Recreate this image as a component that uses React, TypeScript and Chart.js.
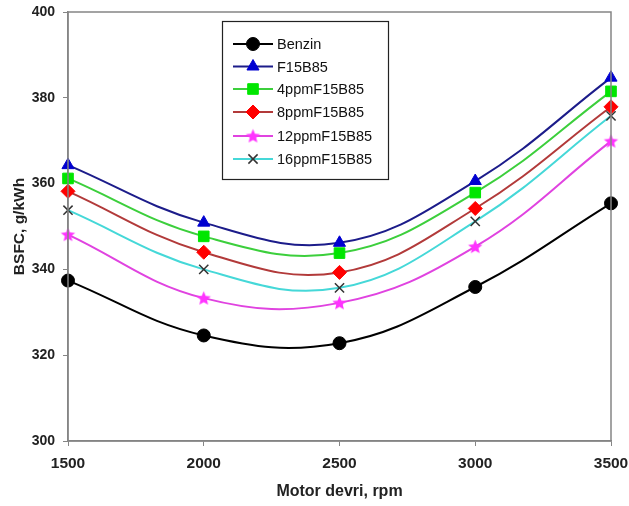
import React, { useEffect, useRef } from "react";
import { Chart, registerables } from "chart.js";
import { drawPoint } from "chart.js/helpers";

Chart.register(...registerables);

const rpm = [1500, 2000, 2500, 3000, 3500];
const benzin = [337.4, 324.6, 322.8, 335.9, 355.4];
const f15b85 = [364.3, 350.9, 346.2, 360.6, 384.7];
const ppm4 = [361.2, 347.7, 343.8, 357.9, 381.5];
const ppm8 = [358.2, 344.0, 339.3, 354.2, 377.9];
const ppm12 = [348.1, 333.3, 332.2, 345.3, 369.9];
const ppm16 = [353.8, 340.0, 335.7, 351.2, 375.8];
const yTicks = [300, 320, 340, 360, 380, 400];
const xTicks = [1500, 2000, 2500, 3000, 3500];

const FONT = "Arial, 'Liberation Sans', sans-serif";

const seriesDefs: any[] = [
  { label: "Benzin", values: benzin, line: "#000000", fill: "#000000", border: "#000000", style: "circle", r: 6.5 },
  { label: "F15B85", values: f15b85, line: "#1c1c8a", fill: "#0000d0", border: "#0000d0", style: "triangle", r: 7 },
  { label: "4ppmF15B85", values: ppm4, line: "#3ccf3c", fill: "#00e600", border: "#00e600", style: "rect", r: 7.5 },
  { label: "8ppmF15B85", values: ppm8, line: "#b23a3a", fill: "#ff0000", border: "#ff0000", style: "rectRot", r: 7 },
  { label: "12ppmF15B85", values: ppm12, line: "#e043e0", fill: "#ff33ff", border: "#ff33ff", style: "filledStar", r: 7 },
  { label: "16ppmF15B85", values: ppm16, line: "#45d8d8", fill: "#333333", border: "#333333", style: "crossRot", r: 6.5 },
];

function makeStar(r: number, color: string): HTMLCanvasElement {
  const c = document.createElement("canvas");
  const s = Math.ceil(r * 2 + 2);
  c.width = s;
  c.height = s;
  const ctx = c.getContext("2d") as CanvasRenderingContext2D;
  const cx = s / 2, cy = s / 2 + 0.5;
  ctx.beginPath();
  for (let i = 0; i < 10; i++) {
    const rad = i % 2 === 0 ? r : r * 0.45;
    const a = -Math.PI / 2 + (i * Math.PI) / 5;
    const px = cx + rad * Math.cos(a);
    const py = cy + rad * Math.sin(a);
    if (i === 0) ctx.moveTo(px, py);
    else ctx.lineTo(px, py);
  }
  ctx.closePath();
  ctx.fillStyle = color;
  ctx.fill();
  return c;
}

export default function App() {
  const ref = useRef<HTMLCanvasElement | null>(null);
  useEffect(() => {
    document.body.style.margin = "0";
    const star = makeStar(7.5, "#ff33ff");
    const styleOf = (s: any) => (s.style === "filledStar" ? star : s.style);

    const framePlugin = {
      id: "frameLegend",
      afterDraw(chart: any) {
        const ctx = chart.ctx;
        const a = chart.chartArea;
        ctx.save();
        ctx.strokeStyle = "#858585";
        ctx.lineWidth = 1.5;
        ctx.strokeRect(a.left, a.top, a.right - a.left, a.bottom - a.top);

        ctx.strokeStyle = "#222222";
        ctx.lineWidth = 1.2;
        ctx.strokeRect(222.5, 21.5, 166, 158);
        const rows = [44, 66.5, 89, 112, 136, 159];
        ctx.font = "14.5px " + FONT;
        ctx.textBaseline = "middle";
        ctx.textAlign = "left";
        seriesDefs.forEach((s, i) => {
          const y = rows[i];
          ctx.strokeStyle = s.line;
          ctx.lineWidth = 2;
          ctx.beginPath();
          ctx.moveTo(233, y);
          ctx.lineTo(273, y);
          ctx.stroke();
          ctx.fillStyle = s.fill;
          ctx.strokeStyle = s.border;
          ctx.lineWidth = s.style === "crossRot" ? 1.5 : 1;
          drawPoint(ctx, { pointStyle: styleOf(s), radius: s.r, rotation: 0, borderWidth: ctx.lineWidth }, 253, y);
          ctx.fillStyle = "#111111";
          ctx.fillText(s.label, 277, y + 1);
        });
        ctx.restore();
      },
    };

    const chart = new Chart(ref.current as HTMLCanvasElement, {
      type: "line",
      data: {
        datasets: seriesDefs.map((s) => ({
          label: s.label,
          data: rpm.map((x, i) => ({ x, y: s.values[i] })),
          borderColor: s.line,
          borderWidth: 2,
          backgroundColor: s.fill,
          pointStyle: styleOf(s),
          pointRadius: s.r,
          pointBackgroundColor: s.fill,
          pointBorderColor: s.border,
          pointBorderWidth: s.style === "crossRot" ? 1.5 : 1,
          tension: 0.4,
          fill: false,
          clip: false as any,
        })),
      },
      options: {
        animation: false,
        responsive: false,
        layout: { padding: { left: 10, right: 18, top: 12, bottom: 0 } },
        plugins: { legend: { display: false }, tooltip: { enabled: false } },
        scales: {
          x: {
            type: "linear",
            min: 1500,
            max: 3500,
            afterFit(scale: any) {
              scale.height = 65;
              scale.paddingLeft = 0;
              scale.paddingRight = 0;
            },
            afterBuildTicks(scale: any) { scale.ticks = xTicks.map((v) => ({ value: v })); },
            grid: { display: true, drawOnChartArea: false, drawTicks: true, tickLength: 5, color: "#858585" },
            border: { color: "#858585", width: 1.5 },
            ticks: {
              color: "#222222",
              font: { family: FONT, size: 15.5, weight: "bold" },
              padding: 8,
              callback: (v: any) => String(v),
            },
            title: { display: true, text: "Motor devri, rpm", color: "#222222", font: { family: FONT, size: 16, weight: "bold" }, padding: { top: 0, bottom: 5 } },
          },
          y: {
            type: "linear",
            min: 300,
            max: 400,
            afterFit(scale: any) {
              scale.width = 58;
              scale.paddingTop = 0;
              scale.paddingBottom = 0;
            },
            afterBuildTicks(scale: any) { scale.ticks = yTicks.map((v) => ({ value: v })); },
            grid: { display: true, drawOnChartArea: false, drawTicks: true, tickLength: 5, color: "#858585" },
            border: { color: "#858585", width: 1.5 },
            ticks: {
              color: "#222222",
              font: { family: FONT, size: 14, weight: "bold" },
              padding: 8,
              callback: (v: any) => String(v),
            },
            title: { display: true, text: "BSFC, g/kWh", color: "#222222", font: { family: FONT, size: 15.5, weight: "bold" }, padding: { top: 0, bottom: 2 } },
          },
        },
      },
      plugins: [framePlugin],
    });
    return () => chart.destroy();
  }, []);
  return (
    <div style={{ width: 629, height: 506, background: "#ffffff" }}>
      <canvas ref={ref} width={629} height={506} style={{ display: "block" }} />
    </div>
  );
}
